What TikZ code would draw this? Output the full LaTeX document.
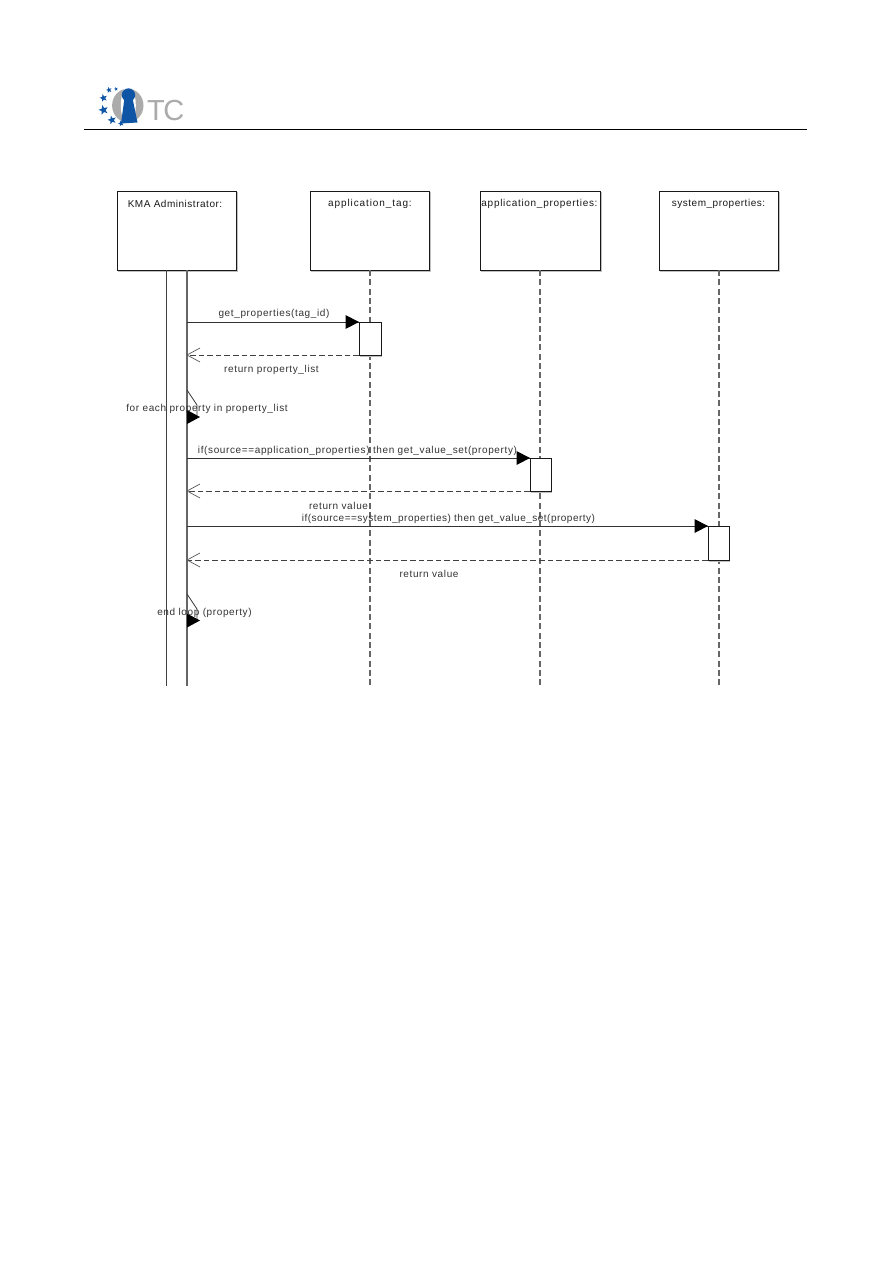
\documentclass[tikz,border=0pt]{standalone}
\usepackage{fontspec}
\setmainfont{Liberation Sans}
\usetikzlibrary{shapes.geometric}
\definecolor{logoblue}{HTML}{0F55A5}
\definecolor{logogray}{HTML}{ABABAB}
\definecolor{lifegray}{HTML}{666666}
\newfontfamily\objfont[LetterSpace=5.2]{Liberation Sans}
\newfontfamily\msgfont[LetterSpace=6.2]{Liberation Sans}
\tikzset{
  x=1pt,y=-1pt,
  objbox/.style={draw=black!90,fill=white,line width=1pt,outer sep=0pt,minimum width=119pt,minimum height=79pt,inner sep=0pt,anchor=north west},
  actbox/.style={draw=black!90,fill=white,line width=1pt,outer sep=0pt,minimum width=21pt,minimum height=33pt,inner sep=0pt,anchor=north west},
  objlabel/.style={font=\objfont\fontsize{10}{11}\selectfont,inner sep=0pt,text=black!90},
  msglabel/.style={font=\msgfont\fontsize{10}{11}\selectfont,inner sep=0pt,text=black!80},
  shade edge/.style={draw=black!25,line width=1.2pt},
  lifeline/.style={draw=lifegray,line width=1.5pt,dash pattern=on 6pt off 3.3pt},
  call/.style={draw=black!80,line width=1pt},
  reply/.style={draw=black!75,line width=1pt,dash pattern=on 5.6pt off 3pt},
  openhead/.style={draw=black!65,line width=0.7pt},
  solidhead/.style={fill=black,draw=none},
  logostar/.style={star,star points=5,star point ratio=2.4,fill=logoblue,draw=none,inner sep=0pt},
}
\begin{document}
\begin{tikzpicture}
\useasboundingbox (0,0) rectangle (893,1263);
\fill[white] (0,0) rectangle (893,1263);

% logo
\fill[logogray] (127.8,105.5) ellipse [x radius=15.7,y radius=16.8];
\fill[white] (128.3,105.5) ellipse [x radius=7.5,y radius=19];
\fill[logoblue] (128.5,95) circle (6.7);
\fill[logoblue] (124.5,98) -- (132.5,98) -- (137.5,122.5) -- (121,123.5) -- cycle;
\node[logostar,minimum size=6pt,rotate=15] (s1) at (109,90) {};
\node[logostar,minimum size=4pt,rotate=15] (s2) at (116,89) {};
\node[logostar,minimum size=8pt,rotate=15] (s3) at (103.5,98) {};
\node[logostar,minimum size=10pt,rotate=15] (s4) at (103.5,110) {};
\node[logostar,minimum size=9pt,rotate=15] (s5) at (112,120) {};
\node[logostar,minimum size=6pt,rotate=15] (s6) at (121,123.5) {};
\node[inner sep=0pt,anchor=base west,text=logogray,font=\fontsize{29}{30}\selectfont] (logotext) at (147,120.5) {T\kern-1.5ptC};

% header rule
\coordinate (ruleL) at (84,129);
\coordinate (ruleR) at (807,129);
\draw[black,line width=1pt] (ruleL) -- (ruleR);

% object box shadows
\draw[shade edge] (237,192) -- (237,271.2) -- (118,271.2);
\draw[shade edge] (430,192) -- (430,271.2) -- (311,271.2);
\draw[shade edge] (601,192) -- (601,271.2) -- (481,271.2);
\draw[shade edge] (779,192) -- (779,271.2) -- (660,271.2);

% bottoms of the lifelines
\coordinate (tagEnd) at (370,686);
\coordinate (appEnd) at (540,686);
\coordinate (sysEnd) at (719,686);

\node[objbox] (kma) at (117,191) {};
\node[objbox] (tag) at (310,191) {};
\node[objbox,minimum width=120pt] (app) at (480,191) {};
\node[objbox] (sys) at (659,191) {};

\draw[lifeline] (tag.south -| tagEnd) -- (tagEnd);
\draw[lifeline] (app.south -| appEnd) -- (appEnd);
\draw[lifeline] (sys.south -| sysEnd) -- (sysEnd);

% KMA activation bar (open at the bottom)
\coordinate (barTL) at (166,270);
\coordinate (barTR) at (187,270);
\coordinate (barBL) at (166,686);
\coordinate (barBR) at (187,686);
\draw[black!75,line width=1pt] (barTL) -- (barBL);
\draw[black!60,line width=1.8pt] (barTR) -- (barBR);

% activations
\draw[shade edge] (381.8,323) -- (381.8,356) -- (360,356);
\draw[shade edge] (551.8,459) -- (551.8,492) -- (531,492);
\draw[shade edge] (729.8,527) -- (729.8,561) -- (709,561);
\node[actbox,minimum width=22pt] (a1) at (359,322) {};
\node[actbox] (a2) at (530,458) {};
\node[actbox,minimum height=34pt] (a3) at (708,526) {};

% points on the KMA bar
\coordinate (k1) at (187,322);
\coordinate (k2) at (187,355);
\coordinate (k3) at (187,458);
\coordinate (k4) at (187,491);
\coordinate (k5) at (187,526);
\coordinate (k6) at (187,560);

% get_properties
\draw[call] (k1) -- (a1.north west);
\fill[solidhead] (a1.north west) -- ++(-13.5,-7) -- ++(0,14) -- cycle;
\draw[reply] (a1.south west) -- (k2);
\draw[openhead] (k2) -- ++(13,-7) (k2) -- ++(13,7);

% self call 1
\coordinate (self1a) at (187,390);
\coordinate (self1b) at (197,405);
\coordinate (self1c) at (197,417);
\draw[black!80,line width=0.7pt] (self1a) -- (self1b) -- (self1c);
\fill[solidhead] (200,417) -- (187,410) -- (187,424) -- cycle;

% application_properties
\draw[call] (k3) -- (a2.north west);
\fill[solidhead] (a2.north west) -- ++(-13.5,-7) -- ++(0,14) -- cycle;
\draw[reply] (a2.south west) -- (k4);
\draw[openhead] (k4) -- ++(13,-7) (k4) -- ++(13,7);

% system_properties
\draw[call] (k5) -- (a3.north west);
\fill[solidhead] (a3.north west) -- ++(-13.5,-7) -- ++(0,14) -- cycle;
\draw[reply] (a3.south west) -- (k6);
\draw[openhead] (k6) -- ++(13,-7) (k6) -- ++(13,7);

% self call 2
\coordinate (self2a) at (187,594);
\coordinate (self2b) at (197,609);
\coordinate (self2c) at (197,620);
\draw[black!80,line width=0.7pt] (self2a) -- (self2b) -- (self2c);
\fill[solidhead] (200,620.5) -- (187,613.5) -- (187,627.5) -- cycle;

% labels
\node[objlabel] (lkma) at (175,204) {KMA Administrator:};
\node[objlabel] (ltag) at (370,204) {\addfontfeature{LetterSpace=9}application\_tag:};
\node[objlabel] (lapp) at (539.5,204) {\addfontfeature{LetterSpace=7}application\_properties:};
\node[objlabel] (lsys) at (718.5,204) {system\_properties:};
\node[msglabel] (m1) at (274,313.5) {get\_properties(tag\_id)};
\node[msglabel] (m2) at (271.5,369.5) {return property\_list};
\node[msglabel] (m3) at (207,408.5) {for each property in property\_list};
\node[msglabel] (m4) at (357.5,450.5) {if(source==application\_properties) then get\_value\_set(property)};
\node[msglabel] (m5) at (338.5,505.5) {return value};
\node[msglabel] (m6) at (448.5,518.5) {\addfontfeature{LetterSpace=5}if(source==system\_properties) then get\_value\_set(property)};
\node[msglabel] (m7) at (429,573.5) {return value};
\node[msglabel] (m8) at (204.5,612.5) {end loop (property)};
\end{tikzpicture}
\end{document}
